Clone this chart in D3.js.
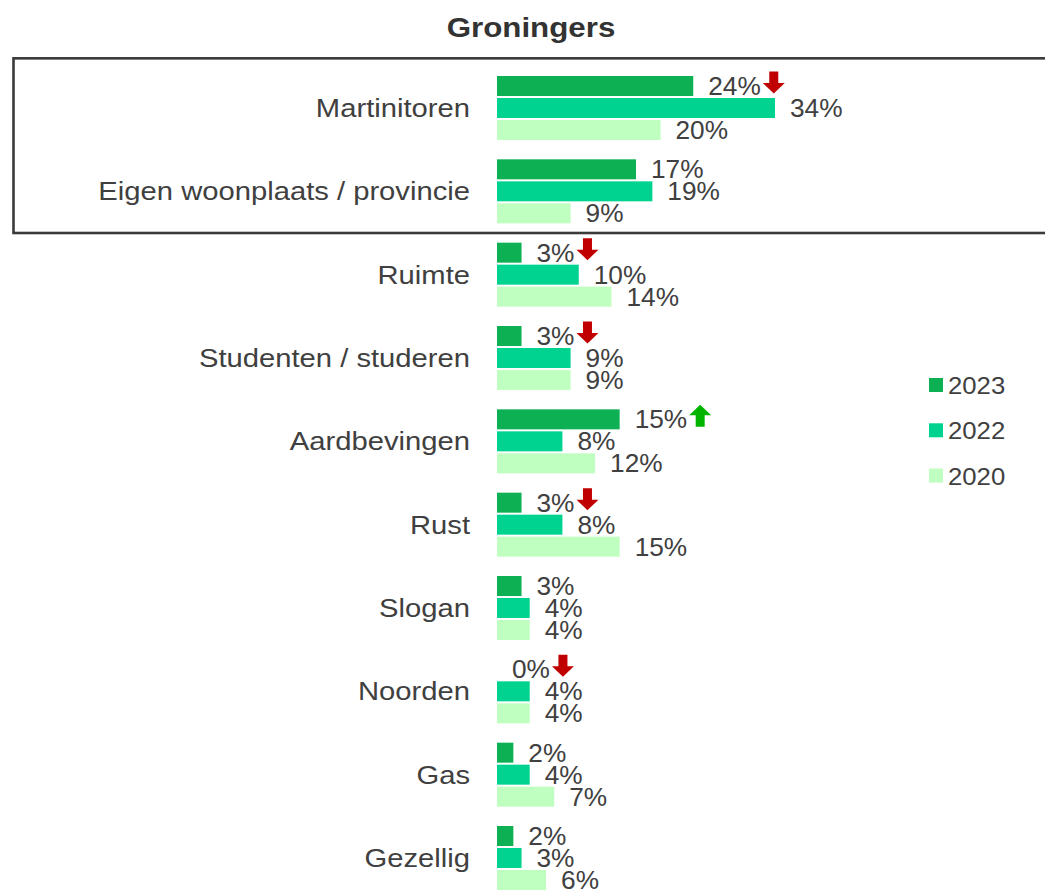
<!DOCTYPE html>
<html>
<head>
<meta charset="utf-8">
<script src="https://cdn.jsdelivr.net/npm/d3@7"></script>
<style>
  html, body { margin: 0; padding: 0; background: #fff; }
  svg { display: block; font-family: "Liberation Sans", Arial, sans-serif; }
</style>
</head>
<body>
<svg id="chart" width="1045" height="890"></svg>
<script>
const title = "Groningers";
const categories = [
  "Martinitoren",
  "Eigen woonplaats / provincie",
  "Ruimte",
  "Studenten / studeren",
  "Aardbevingen",
  "Rust",
  "Slogan",
  "Noorden",
  "Gas",
  "Gezellig"
];
const years = ["2023", "2022", "2020"];
const values2023 = [24, 17, 3, 3, 15, 3, 3, 0, 2, 2];
const values2022 = [34, 19, 10, 9, 8, 8, 4, 4, 4, 3];
const values2020 = [20, 9, 14, 9, 12, 15, 4, 4, 7, 6];
const changes2023 = ["down", null, "down", "down", "up", "down", null, "down", null, null];
const highlighted = ["Martinitoren", "Eigen woonplaats / provincie"];

const colors = { "2023": "#0db153", "2022": "#00d28f", "2020": "#bfffc0" };
const textColor = "#404040";

const seriesByYear = { "2023": values2023, "2022": values2022, "2020": values2020 };

const svg = d3.select("#chart");

const x = d3.scaleLinear().domain([0, 34]).range([497, 775]);
const y = d3.scaleBand().domain(categories).range([66.33, 899.67]).padding(0);
const ySub = d3.scaleBand().domain(years)
  .range([-y.bandwidth() / 2 + 8.67, y.bandwidth() / 2 - 8.67])
  .paddingInner(2 / 22).paddingOuter(1 / 22);

// Title
svg.append("text")
  .attr("transform", "translate(531,37) scale(1.16,1)")
  .attr("text-anchor", "middle")
  .attr("font-size", 27)
  .attr("font-weight", "bold")
  .attr("fill", "#333")
  .text(title);

// Highlight box around first two categories
const boxTop = y(highlighted[0]) - 8;
const boxBottom = y(highlighted[highlighted.length - 1]) + y.bandwidth();
svg.append("rect")
  .attr("x", 13.5)
  .attr("y", boxTop)
  .attr("width", 1100)
  .attr("height", boxBottom - boxTop)
  .attr("fill", "none")
  .attr("stroke", "#3a3a3a")
  .attr("stroke-width", 2.6);

// Category labels
svg.append("g").selectAll("text")
  .data(categories)
  .join("text")
  .attr("transform", d => `translate(470,${y(d) + y.bandwidth() / 2 + 9}) scale(1.145,1)`)
  .attr("text-anchor", "end")
  .attr("font-size", 25.5)
  .attr("fill", textColor)
  .text(d => d);

// Bars
const rows = [];
categories.forEach((c, i) => {
  years.forEach(yr => {
    rows.push({ cat: c, year: yr, value: seriesByYear[yr][i], change: yr === "2023" ? changes2023[i] : null });
  });
});

const g = svg.append("g");
g.selectAll("rect")
  .data(rows)
  .join("rect")
  .attr("x", x(0))
  .attr("y", d => y(d.cat) + y.bandwidth() / 2 + ySub(d.year))
  .attr("width", d => x(d.value) - x(0))
  .attr("height", ySub.bandwidth())
  .attr("fill", d => colors[d.year]);

const valScale = 1.05;
const labels = g.selectAll("text.val")
  .data(rows)
  .join("text")
  .attr("class", "val")
  .attr("transform", d => `translate(${x(d.value) + 15},${y(d.cat) + y.bandwidth() / 2 + ySub(d.year) + ySub.bandwidth() / 2 + 9}) scale(${valScale},1)`)
  .attr("font-size", 25)
  .attr("fill", textColor)
  .text(d => d.value + "%");

// Change arrows
labels.each(function (d) {
  if (!d.change) return;
  const w = this.getComputedTextLength() * valScale;
  const x0 = x(d.value) + 15 + w + 2;
  const cy = y(d.cat) + y.bandwidth() / 2 + ySub(d.year) + ySub.bandwidth() / 2 - 3.5;
  const top = cy - 11, bot = cy + 11;
  const cx = x0 + 11;
  let path;
  if (d.change === "down") {
    path = `M${cx - 4.5},${top} L${cx + 4.5},${top} L${cx + 4.5},${top + 11.5} L${cx + 11},${top + 11.5} L${cx},${bot} L${cx - 11},${top + 11.5} L${cx - 4.5},${top + 11.5} Z`;
  } else {
    path = `M${cx - 4.5},${bot} L${cx + 4.5},${bot} L${cx + 4.5},${bot - 11.5} L${cx + 11},${bot - 11.5} L${cx},${top} L${cx - 11},${bot - 11.5} L${cx - 4.5},${bot - 11.5} Z`;
  }
  g.append("path")
    .attr("d", path)
    .attr("fill", d.change === "down" ? "#c00000" : "#00b400");
});

// Legend
const legend = svg.append("g")
  .selectAll("g")
  .data(years)
  .join("g")
  .attr("transform", (d, i) => `translate(929,${378 + i * 45.3})`);
legend.append("rect")
  .attr("width", 14)
  .attr("height", 14)
  .attr("fill", d => colors[d]);
legend.append("text")
  .attr("transform", "translate(19,16) scale(1.05,1)")
  .attr("font-size", 24.5)
  .attr("fill", textColor)
  .text(d => d);
</script>
</body>
</html>
